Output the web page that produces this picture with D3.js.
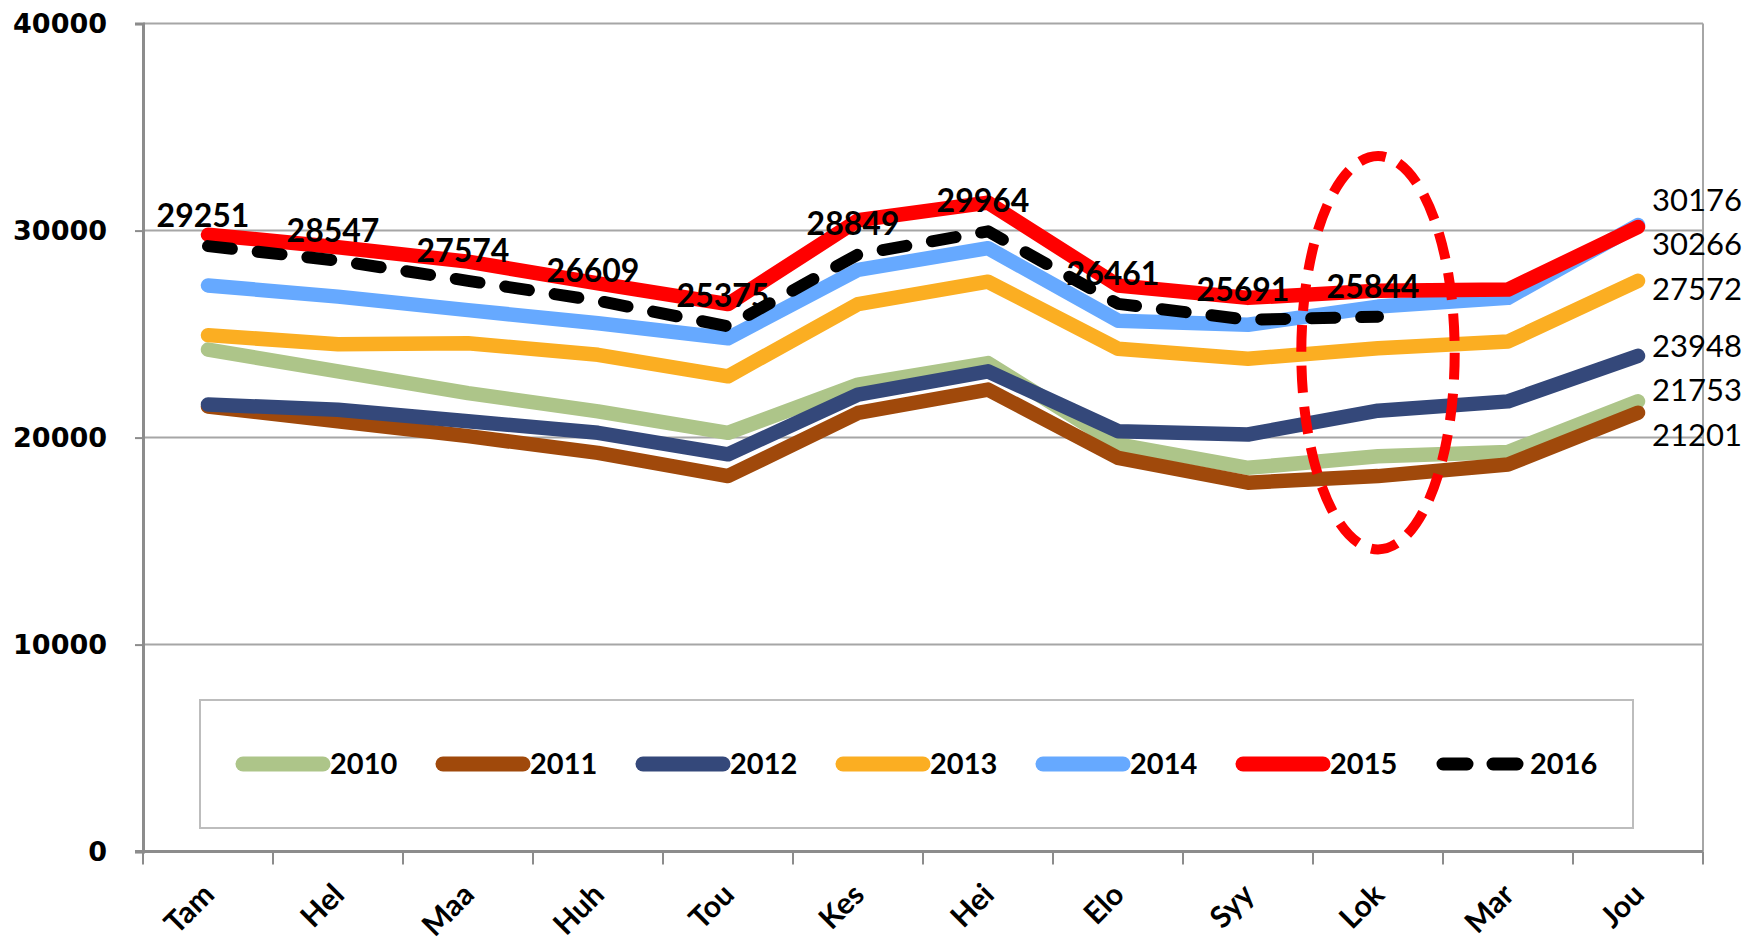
<!DOCTYPE html>
<html>
<head>
<meta charset="utf-8">
<script src="https://cdn.jsdelivr.net/npm/d3@7"></script>
<style>
  html, body { margin: 0; padding: 0; background: #fff; }
  svg { display: block; }
</style>
</head>
<body>
<svg id="chart"></svg>
<script>
const months = ["Tam", "Hel", "Maa", "Huh", "Tou", "Kes", "Hei", "Elo", "Syy", "Lok", "Mar", "Jou"];
const years = ["2010", "2011", "2012", "2013", "2014", "2015", "2016"];

const v2010 = [24250, 23200, 22150, 21270, 20230, 22560, 23600, 19670, 18540, 19100, 19310, 21753];
const v2011 = [21500, 20790, 20070, 19260, 18140, 21190, 22320, 19020, 17820, 18140, 18700, 21201];
const v2012 = [21600, 21350, 20790, 20230, 19190, 22080, 23200, 20310, 20150, 21300, 21750, 23948];
const v2013 = [24950, 24510, 24560, 24000, 22960, 26450, 27530, 24290, 23810, 24320, 24640, 27572];
const v2014 = [27350, 26810, 26160, 25520, 24800, 28100, 29150, 25650, 25450, 26330, 26750, 30266];
const v2015 = [29800, 29200, 28500, 27450, 26450, 30500, 31350, 27350, 26750, 27100, 27150, 30176];
const v2016 = [29251, 28547, 27574, 26609, 25375, 28849, 29964, 26461, 25691, 25844];

const yTicks = [0, 10000, 20000, 30000, 40000];
// order of the end labels, top to bottom
const endLabelOrder = ["2015", "2014", "2013", "2012", "2010", "2011"];

const colors = ["#adc589", "#a0490b", "#34487a", "#fbae22", "#66a9ff", "#ff0000", "#000000"];
const allValues = [v2010, v2011, v2012, v2013, v2014, v2015, v2016];

const series = years.map((yr, i) => ({ year: yr, values: allValues[i], color: colors[i] }));

const W = 1764, H = 941;
const plotLeft = 143, plotRight = 1703, plotTop = 23.6, plotBottom = 851.6;

const svg = d3.select("#chart").attr("width", W).attr("height", H);

const x = d3.scaleBand().domain(months).range([plotLeft, plotRight]);
const y = d3.scaleLinear().domain([0, 40000]).range([plotBottom, plotTop]);
const cx = m => x(m) + x.bandwidth() / 2;

// gridlines
svg.append("g")
  .selectAll("line")
  .data(yTicks.filter(t => t > 0))
  .join("line")
  .attr("x1", plotLeft).attr("x2", plotRight)
  .attr("y1", d => y(d)).attr("y2", d => y(d))
  .attr("stroke", "#a6a6a6").attr("stroke-width", 2);

// right border of plot area
svg.append("line")
  .attr("x1", plotRight).attr("x2", plotRight)
  .attr("y1", y(40000)).attr("y2", plotBottom)
  .attr("stroke", "#a6a6a6").attr("stroke-width", 2);

// y axis
const yAxis = d3.axisLeft(y).tickValues(yTicks).tickSize(8).tickPadding(28).tickFormat(d3.format("d"));
const gy = svg.append("g").attr("transform", `translate(${plotLeft},0)`).call(yAxis);
gy.select(".domain").attr("stroke", "#8c8c8c").attr("stroke-width", 3);
gy.selectAll(".tick line").attr("stroke", "#8c8c8c").attr("stroke-width", 2);
gy.selectAll(".tick text")
  .attr("fill", "#000")
  .style("font-family", "'DejaVu Sans', Verdana, sans-serif")
  .style("font-weight", "bold")
  .style("font-size", "27px");

// x axis
const gx = svg.append("g");
gx.append("line")
  .attr("x1", plotLeft - 8).attr("x2", plotRight)
  .attr("y1", plotBottom).attr("y2", plotBottom)
  .attr("stroke", "#8c8c8c").attr("stroke-width", 3);
gx.selectAll("line.tk")
  .data(months.map(m => x(m)).concat([plotRight]))
  .join("line")
  .attr("class", "tk")
  .attr("x1", d => d).attr("x2", d => d)
  .attr("y1", plotBottom).attr("y2", plotBottom + 13)
  .attr("stroke", "#8c8c8c").attr("stroke-width", 2);
gx.selectAll("text")
  .data(months)
  .join("text")
  .attr("transform", m => `translate(${cx(m) + 8},${plotBottom + 45}) rotate(-45)`)
  .attr("text-anchor", "end")
  .style("font-family", "Lato, 'Liberation Sans', sans-serif")
  .style("font-weight", "bold")
  .style("font-size", "30px")
  .text(m => m);

// lines
const line = d3.line()
  .x((d, i) => cx(months[i]))
  .y(d => y(d));

svg.append("g")
  .selectAll("path")
  .data(series)
  .join("path")
  .attr("d", s => line(s.values))
  .attr("fill", "none")
  .attr("stroke", s => s.color)
  .attr("stroke-width", s => s.year === "2016" ? 12 : 14.5)
  .attr("stroke-dasharray", s => s.year === "2016" ? "24,26" : null)
  .attr("stroke-linecap", "round")
  .attr("stroke-linejoin", "round");

// data labels of 2016
svg.append("g")
  .selectAll("text")
  .data(v2016)
  .join("text")
  .attr("x", (d, i) => cx(months[i]) - 5)
  .attr("y", d => y(d) - 19)
  .attr("text-anchor", "middle")
  .style("font-family", "Lato, 'Liberation Sans', sans-serif")
  .style("font-weight", "bold")
  .style("font-size", "32px")
  .text(d => d);

// end labels, spread apart so they do not overlap
const lastMonth = months[months.length - 1];
const ends = endLabelOrder.map(yr => {
  const s = series.find(d => d.year === yr);
  const v = s.values[s.values.length - 1];
  return { value: v, target: y(v), pos: y(v) };
});
const gap = 45;
for (let k = 0; k < 300; k++) {
  for (let i = 0; i < ends.length - 1; i++) {
    const a = ends[i], b = ends[i + 1];
    const d = b.pos - a.pos;
    if (d < gap) {
      const push = (gap - d) / 2;
      a.pos -= push;
      b.pos += push;
    }
  }
  ends.forEach(e => { e.pos += (e.target - e.pos) * 0.02; });
}
svg.append("g")
  .selectAll("text")
  .data(ends)
  .join("text")
  .attr("x", cx(lastMonth) + 14)
  .attr("y", e => e.pos)
  .attr("dy", "0.36em")
  .style("font-family", "Lato, 'Liberation Sans', sans-serif")
  .style("font-size", "31px")
  .text(e => e.value);

// red dashed ellipse around "Lok"
const ellCenter = 24100, ellHalf = 9500;
svg.append("ellipse")
  .attr("cx", cx("Lok"))
  .attr("cy", y(ellCenter))
  .attr("rx", x.bandwidth() * 0.59)
  .attr("ry", y(ellCenter - ellHalf) - y(ellCenter))
  .attr("fill", "none")
  .attr("stroke", "#ff0000")
  .attr("stroke-width", 10)
  .attr("stroke-dasharray", "27,14");

// legend
const legend = svg.append("g");
legend.append("rect")
  .attr("x", 200).attr("y", 700)
  .attr("width", 1433).attr("height", 128)
  .attr("fill", "#fff")
  .attr("stroke", "#bdbdbd").attr("stroke-width", 2);

const item = legend.selectAll("g.item")
  .data(series)
  .join("g")
  .attr("class", "item")
  .attr("transform", (s, i) => `translate(${243 + i * 200},764)`);
item.append("line")
  .attr("x1", 0).attr("x2", 80)
  .attr("stroke", s => s.color)
  .attr("stroke-width", s => s.year === "2016" ? 13 : 15)
  .attr("stroke-linecap", "round")
  .attr("stroke-dasharray", s => s.year === "2016" ? "24,26" : null);
item.append("text")
  .attr("x", 87)
  .attr("dy", "0.36em")
  .style("font-family", "Lato, 'Liberation Sans', sans-serif")
  .style("font-weight", "bold")
  .style("font-size", "29px")
  .text(s => s.year);
</script>
</body>
</html>
